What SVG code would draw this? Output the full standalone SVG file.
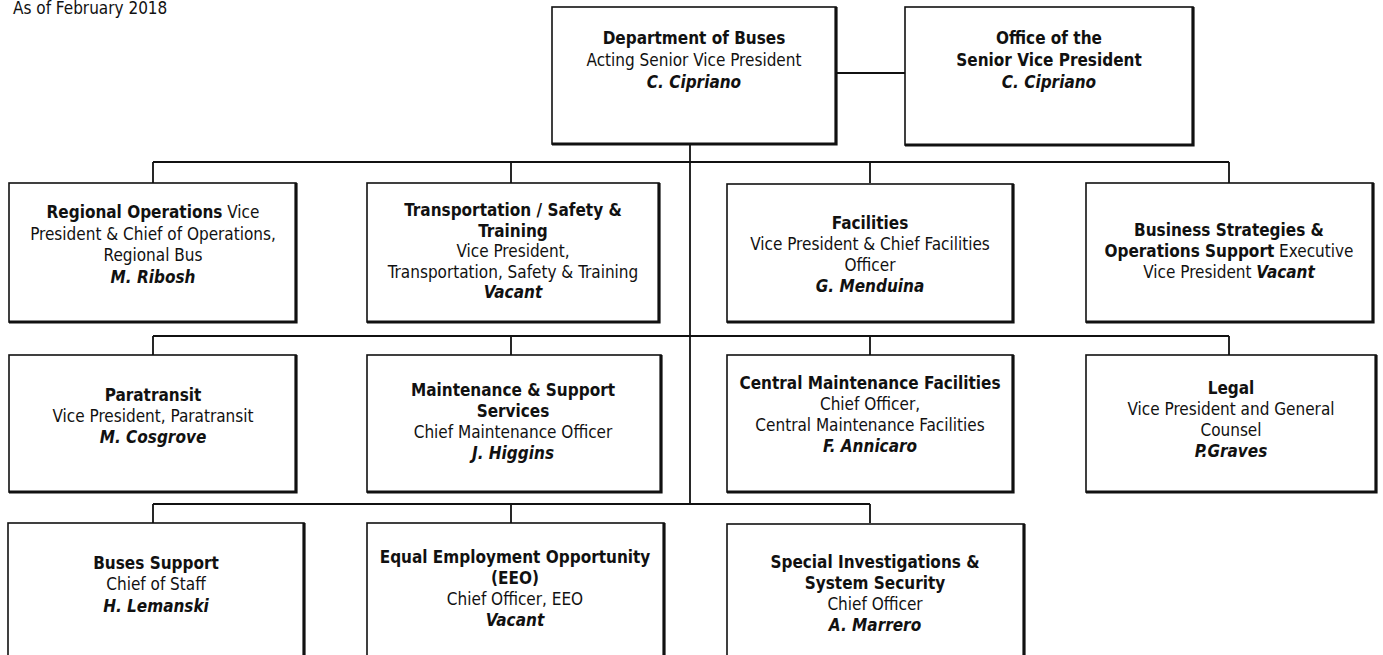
<svg xmlns="http://www.w3.org/2000/svg" width="1383" height="655" viewBox="0 0 1383 655">
<style>
text{font-family:"DejaVu Sans Condensed","DejaVu Sans",sans-serif;font-size:17px;fill:#111;text-anchor:middle}
.b{font-weight:bold}
.n{font-weight:bold;font-style:italic}
.box{fill:#fff;stroke:#111;stroke-width:1.6}
.sh{fill:none;stroke:#111;stroke-width:3.2}
.ln{fill:none;stroke:#111;stroke-width:1.8}
</style>
<rect width="1383" height="655" fill="#fff"/>
<text x="13" y="14" style="text-anchor:start">As of February 2018</text>
<g id="connectors">
<path class="ln" d="M836 73H905"/>
<path class="ln" d="M690 145V504"/>
<path class="ln" d="M153 162H1229M153 162V183M511 162V183M870 162V183M1229 162V183"/>
<path class="ln" d="M153 336H1229M153 336V355M511 336V355M870 336V355M1229 336V355"/>
<path class="ln" d="M153 504H870M153 504V523M511 504V523M870 504V523"/>
</g>
<g id="dept">
<rect class="box" x="552" y="7" width="284" height="137"/>
<path class="sh" d="M836 7V144H552"/>
<text x="694" y="44" class="b">Department of Buses</text>
<text x="694" y="66">Acting Senior Vice President</text>
<text x="694" y="88" class="n">C. Cipriano</text>
</g>
<g id="office">
<rect class="box" x="905" y="7" width="288" height="138"/>
<path class="sh" d="M1193 7V145H905"/>
<text x="1049" y="44" class="b">Office of the</text>
<text x="1049" y="66" class="b">Senior Vice President</text>
<text x="1049" y="88" class="n">C. Cipriano</text>
</g>
<g id="regional">
<rect class="box" x="9" y="183" width="287" height="139"/>
<path class="sh" d="M296 183V322H9"/>
<text x="153" y="218"><tspan class="b">Regional Operations</tspan> Vice</text>
<text x="153" y="239.5">President &amp; Chief of Operations,</text>
<text x="153" y="261">Regional Bus</text>
<text x="153" y="282.5" class="n">M. Ribosh</text>
</g>
<g id="transportation">
<rect class="box" x="367" y="183" width="292" height="139"/>
<path class="sh" d="M659 183V322H367"/>
<text x="513" y="216" class="b">Transportation / Safety &amp;</text>
<text x="513" y="236.5" class="b">Training</text>
<text x="513" y="257">Vice President,</text>
<text x="513" y="277.5">Transportation, Safety &amp; Training</text>
<text x="513" y="298" class="n">Vacant</text>
</g>
<g id="facilities">
<rect class="box" x="727" y="184" width="286" height="138"/>
<path class="sh" d="M1013 184V322H727"/>
<text x="870" y="229" class="b">Facilities</text>
<text x="870" y="250">Vice President &amp; Chief Facilities</text>
<text x="870" y="271">Officer</text>
<text x="870" y="292" class="n">G. Menduina</text>
</g>
<g id="business">
<rect class="box" x="1086" y="183" width="287" height="139"/>
<path class="sh" d="M1373 183V322H1086"/>
<text x="1229" y="236" class="b">Business Strategies &amp;</text>
<text x="1229" y="257"><tspan class="b">Operations Support</tspan> Executive</text>
<text x="1229" y="278">Vice President <tspan class="n">Vacant</tspan></text>
</g>
<g id="paratransit">
<rect class="box" x="9" y="355" width="287" height="137"/>
<path class="sh" d="M296 355V492H9"/>
<text x="153" y="401" class="b">Paratransit</text>
<text x="153" y="422">Vice President, Paratransit</text>
<text x="153" y="443" class="n">M. Cosgrove</text>
</g>
<g id="maintenance">
<rect class="box" x="367" y="355" width="294" height="137"/>
<path class="sh" d="M661 355V492H367"/>
<text x="513" y="396" class="b">Maintenance &amp; Support</text>
<text x="513" y="417" class="b">Services</text>
<text x="513" y="438">Chief Maintenance Officer</text>
<text x="513" y="459" class="n">J. Higgins</text>
</g>
<g id="central">
<rect class="box" x="727" y="355" width="286" height="137"/>
<path class="sh" d="M1013 355V492H727"/>
<text x="870" y="389" class="b">Central Maintenance Facilities</text>
<text x="870" y="410">Chief Officer,</text>
<text x="870" y="431">Central Maintenance Facilities</text>
<text x="870" y="452" class="n">F. Annicaro</text>
</g>
<g id="legal">
<rect class="box" x="1086" y="355" width="290" height="137"/>
<path class="sh" d="M1376 355V492H1086"/>
<text x="1231" y="394" class="b">Legal</text>
<text x="1231" y="415">Vice President and General</text>
<text x="1231" y="436">Counsel</text>
<text x="1231" y="457" class="n">P.Graves</text>
</g>
<g id="busessupport">
<rect class="box" x="8" y="523" width="296" height="150"/>
<path class="sh" d="M304 523V673"/>
<text x="156" y="569" class="b">Buses Support</text>
<text x="156" y="590">Chief of Staff</text>
<text x="156" y="612" class="n">H. Lemanski</text>
</g>
<g id="eeo">
<rect class="box" x="367" y="523" width="297" height="150"/>
<path class="sh" d="M664 523V673"/>
<text x="515" y="563" class="b">Equal Employment Opportunity</text>
<text x="515" y="584" class="b">(EEO)</text>
<text x="515" y="605">Chief Officer, EEO</text>
<text x="515" y="626" class="n">Vacant</text>
</g>
<g id="security">
<rect class="box" x="727" y="524" width="297" height="150"/>
<path class="sh" d="M1024 524V674"/>
<text x="875" y="568" class="b">Special Investigations &amp;</text>
<text x="875" y="589" class="b">System Security</text>
<text x="875" y="610">Chief Officer</text>
<text x="875" y="631" class="n">A.  Marrero</text>
</g>
</svg>
